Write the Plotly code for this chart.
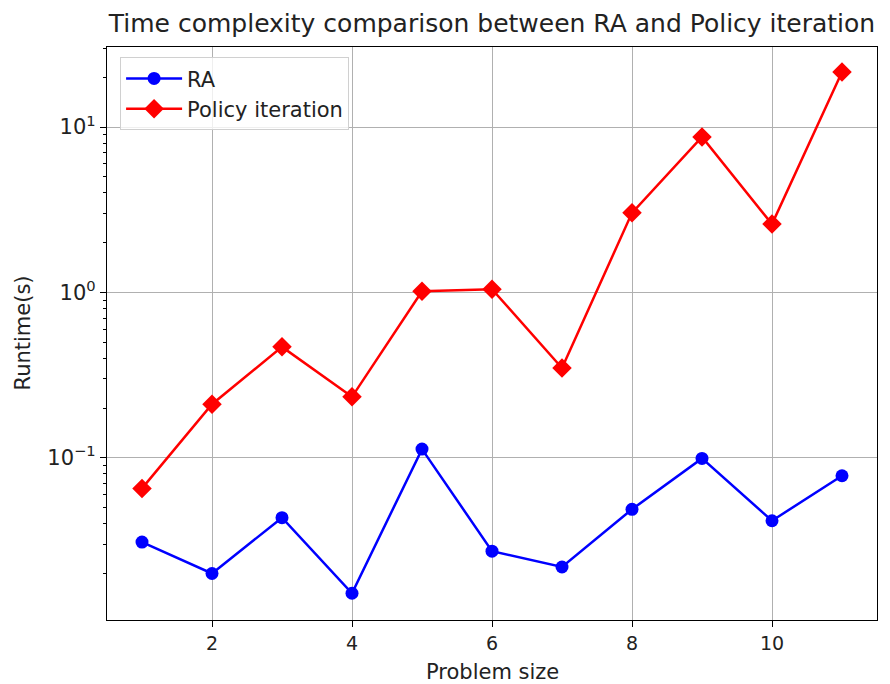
import plotly.graph_objects as go

problem_size = [1, 2, 3, 4, 5, 6, 7, 8, 9, 10, 11]
ra_runtime = [0.0310, 0.0200, 0.0435, 0.0152, 0.113, 0.0273, 0.0219, 0.0489, 0.0993, 0.0417, 0.0780]
pi_runtime = [0.0654, 0.211, 0.469, 0.234, 1.018, 1.047, 0.349, 3.03, 8.71, 2.59, 21.5]
x_ticks = [2, 4, 6, 8, 10]
y_ticks = [0.1, 1, 10]
y_ticklabels = ["10<sup>−1</sup>", "10<sup>0</sup>", "10<sup>1</sup>"]

minor_vals = [m * 10 ** e for e in (-2, -1, 0, 1) for m in range(2, 10)]

font = "DejaVu Sans"
W, H = 882, 676  # page is offset by the 8px body margin
ML, MR, MT, MB = 99, 13, 39, 64
PW, PH = W - ML - MR, H - MT - MB
fig = go.Figure()
fig.add_trace(go.Scatter(x=problem_size, y=ra_runtime, mode="lines+markers", name="RA",
                         line=dict(color="#0000ff", width=2.5),
                         marker=dict(symbol="circle", size=13, color="#0000ff")))
fig.add_trace(go.Scatter(x=problem_size, y=pi_runtime, mode="lines+markers", name="Policy iteration",
                         line=dict(color="#ff0000", width=2.5),
                         marker=dict(symbol="diamond", size=15, color="#ff0000")))

fig.update_layout(
    width=W, height=H,
    margin=dict(l=ML, r=MR, t=MT, b=MB, autoexpand=False),
    paper_bgcolor="white", plot_bgcolor="white",
    font=dict(family=font, size=20, color="#222"),
    title=dict(text="Time complexity comparison between RA and Policy iteration",
               x=(ML + W - MR) / 2 / W, xanchor="center", y=1 - 15 / H, yanchor="middle",
               font=dict(size=25, family=font, color="#222")),
    showlegend=True,
    legend=dict(x=0.017, y=0.982, xanchor="left", yanchor="top",
                bgcolor="rgba(255,255,255,0.8)", bordercolor="#d0d0d0", borderwidth=1,
                font=dict(size=21, family=font), tracegroupgap=0, itemwidth=56),
    annotations=[
        dict(text="Problem size", xref="paper", yref="paper", x=0.5, y=-52 / PH,
             xanchor="center", yanchor="middle", showarrow=False,
             font=dict(size=21, family=font, color="#222")),
        dict(text="Runtime(s)", xref="paper", yref="paper", x=-85 / PW, y=0.5,
             xanchor="center", yanchor="middle", showarrow=False, textangle=-90,
             font=dict(size=21, family=font, color="#222")),
    ],
)
fig.update_xaxes(range=[0.5, 11.5], tickvals=x_ticks, showgrid=True, gridcolor="#b0b0b0", gridwidth=1,
                 showline=True, linecolor="black", linewidth=1.2, mirror=True, automargin=False,
                 ticks="outside", ticklen=6, tickcolor="black", zeroline=False,
                 tickfont=dict(size=19, family=font))
fig.update_yaxes(type="log", range=[-1.980, 1.484], tickvals=y_ticks, ticktext=y_ticklabels,
                 showgrid=True, gridcolor="#b0b0b0", gridwidth=1, automargin=False,
                 showline=True, linecolor="black", linewidth=1.2, mirror=True,
                 ticks="outside", ticklen=6, tickcolor="black", zeroline=False,
                 minor=dict(tickmode="array", tickvals=minor_vals, ticks="outside", ticklen=3,
                            tickcolor="black", showgrid=False),
                 tickfont=dict(size=21, family=font))

fig.write_html("out.html")
